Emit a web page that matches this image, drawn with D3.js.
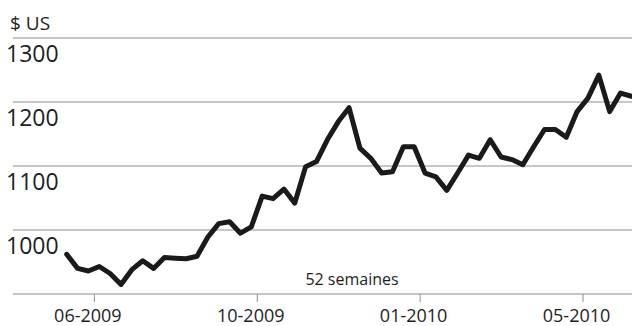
<!DOCTYPE html>
<html>
<head>
<meta charset="utf-8">
<script src="https://cdn.jsdelivr.net/npm/d3@7"></script>
<style>
  body { margin: 0; background: #fff; }
  svg { display: block; font-family: "Open Sans", sans-serif; }
</style>
</head>
<body>
<svg id="chart" width="632" height="326"></svg>
<script>
// gold price, weekly, 52 weeks (index 0..52)
const prices = [962, 940, 936, 943, 932, 915, 938, 952, 940, 957,
  956, 955, 959, 989, 1010, 1013, 995, 1005, 1053, 1049,
  1064, 1042, 1099, 1107, 1141, 1169, 1191, 1128, 1112, 1089,
  1091, 1130, 1130, 1089, 1083, 1062, 1089, 1117, 1112, 1141,
  1114, 1110, 1102, 1130, 1157, 1157, 1145, 1185, 1206, 1242,
  1185, 1214, 1209];
const yTicks = [900, 1000, 1100, 1200, 1300];
const xTickWeeks = [2.5, 17.5, 32.5, 47.5];
const xTickLabels = ["06-2009", "10-2009", "01-2010", "05-2010"];

const svg = d3.select("#chart");

let x = d3.scaleLinear().domain([0, 52]).range([66.7, 631.4]);
let y = d3.scaleLinear().domain([900, 1300]).range([294, 38]);

// grid lines
svg.append("g").selectAll("line")
  .data(yTicks).enter()
  .append("line")
  .attr("x1", 13).attr("x2", 632)
  .attr("y1", d => y(d)).attr("y2", d => y(d))
  .style("stroke", "#8f8f8f")
  .style("stroke-width", 1);

// y labels sit under their grid line
svg.append("g").selectAll("text")
  .data(yTicks.filter(d => d > 900)).enter()
  .append("text")
  .attr("x", 6)
  .attr("y", d => y(d) + 23.5)
  .style("font-size", "23px")
  .style("fill", "#1e1e1e")
  .text(d => d);

svg.append("text")
  .attr("x", 10).attr("y", 29.5)
  .style("font-size", "19px")
  .style("fill", "#1e1e1e")
  .text("$ US");

// x axis ticks + labels
let xAxis = d3.axisBottom(x)
  .tickValues(xTickWeeks)
  .tickFormat((d, i) => xTickLabels[i])
  .tickSize(8);
let gx = svg.append("g")
  .attr("transform", "translate(0," + y(900) + ")")
  .call(xAxis);
gx.select(".domain").remove();
gx.selectAll(".tick line").style("stroke", "#8f8f8f");
gx.selectAll(".tick text")
  .attr("y", 28)
  .attr("dy", 0)
  .attr("dx", -6.5)
  .style("font-family", "Open Sans, sans-serif")
  .style("font-size", "18px")
  .style("fill", "#1e1e1e");

svg.append("text")
  .attr("x", 352).attr("y", 285)
  .attr("text-anchor", "middle")
  .style("font-size", "16px")
  .style("fill", "#1e1e1e")
  .text("52 semaines");

// price line
let line = d3.line()
  .x((d, i) => x(i))
  .y(d => y(d));

svg.append("path")
  .datum(prices)
  .attr("d", line)
  .style("fill", "none")
  .style("stroke", "#1a1a1a")
  .style("stroke-width", 5)
  .style("stroke-linejoin", "round")
  .style("stroke-linecap", "round");
</script>
</body>
</html>
